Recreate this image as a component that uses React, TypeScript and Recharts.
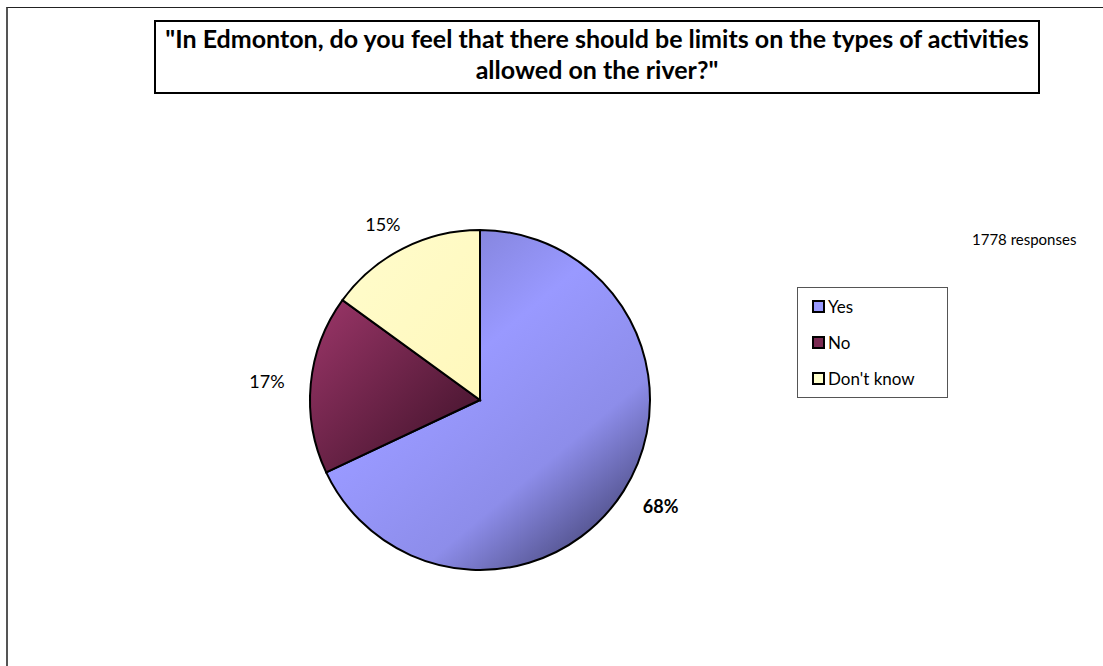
import { PieChart, Pie, Cell, Legend } from "recharts";

const CATEGORIES = ["Yes", "No", "Don't know"];
const SHARES = [68, 17, 15];
const FILLS = ["url(#gYes)", "url(#gNo)", "url(#gDk)"];
const SWATCHES = ["#9999ff", "#7a2a52", "#ffffcc"];
const TITLE_LINES = [
  "\"In Edmonton, do you feel that there should be limits on the types of activities",
  "allowed on the river?\"",
];
const RESPONSES = "1778 responses";

const DATA = CATEGORIES.map((name, i) => ({ name, value: SHARES[i] }));

const FONT = "Lato, 'Open Sans', sans-serif";
const RAD = Math.PI / 180;

// label sits just outside the rim, nudged out by half its own box
function renderLabel(props: any) {
  const { cx, cy, midAngle, outerRadius, percent, index } = props;
  const r = outerRadius + 20;
  const c = Math.cos(-midAngle * RAD);
  const s = Math.sin(-midAngle * RAD);
  const w = 48;
  const h = 16;
  const x = cx + r * c + (c * w) / 2;
  const y = cy + r * s + (s * h) / 2;
  return (
    <text
      x={x}
      y={y}
      textAnchor="middle"
      dominantBaseline="central"
      fontFamily={FONT}
      fontSize={18}
      fontWeight={index === 0 ? 700 : 400}
      fill="#000"
    >
      {`${Math.round(percent * 100)}%`}
    </text>
  );
}

function LegendBox() {
  return (
    <div
      style={{
        width: 151,
        height: 111,
        border: "1px solid #555",
        boxSizing: "border-box",
        background: "#fff",
        fontFamily: FONT,
        fontSize: 17,
      }}
    >
      {CATEGORIES.map((c, i) => (
        <div key={c} style={{ display: "flex", alignItems: "center", height: 36, paddingLeft: 14 }}>
          <span
            style={{
              width: 9,
              height: 9,
              border: "2px solid #000",
              background: SWATCHES[i],
              marginRight: 3,
              display: "inline-block",
            }}
          />
          <span>{c}</span>
        </div>
      ))}
    </div>
  );
}

export default function App() {
  return (
    <div style={{ position: "absolute", left: 0, top: 0, width: 1103, height: 666, background: "#fff", overflow: "hidden" }}>
      <div
        style={{
          position: "absolute",
          left: 6,
          top: 7,
          width: 1110,
          height: 700,
          borderTop: "1px solid #222",
          borderLeft: "2px solid #555",
        }}
      />
      <div
        style={{
          position: "absolute",
          left: 154,
          top: 20,
          width: 886,
          height: 74,
          border: "2px solid #000",
          boxSizing: "border-box",
          fontFamily: FONT,
          fontWeight: 700,
          fontSize: 25,
          lineHeight: "31px",
          textAlign: "center",
          paddingTop: 1,
          whiteSpace: "nowrap",
        }}
      >
        {TITLE_LINES.map((l) => (
          <div key={l}>{l}</div>
        ))}
      </div>
      <div
        style={{
          position: "absolute",
          left: 972,
          top: 230,
          fontFamily: FONT,
          fontSize: 15,
        }}
      >
        {RESPONSES}
      </div>
      <div style={{ position: "absolute", left: 0, top: 0 }}>
        <PieChart width={1103} height={666} margin={{ top: 0, right: 0, bottom: 0, left: 0 }}>
          <defs>
            <linearGradient id="gYes" x1="0.1" y1="0" x2="0.9" y2="1">
              <stop offset="0%" stopColor="#7676c4" />
              <stop offset="40%" stopColor="#9999ff" />
              <stop offset="70%" stopColor="#8d8dea" />
              <stop offset="100%" stopColor="#393964" />
            </linearGradient>
            <linearGradient id="gNo" x1="0" y1="0" x2="1" y2="1">
              <stop offset="0%" stopColor="#9c3669" />
              <stop offset="100%" stopColor="#3a1026" />
            </linearGradient>
            <linearGradient id="gDk" x1="0" y1="0" x2="1" y2="1">
              <stop offset="0%" stopColor="#fffccc" />
              <stop offset="100%" stopColor="#fff8bc" />
            </linearGradient>
          </defs>
          <Pie
            data={DATA}
            dataKey="value"
            nameKey="name"
            cx={480}
            cy={400}
            outerRadius={170}
            startAngle={90}
            endAngle={-270}
            stroke="#000"
            strokeWidth={2}
            label={renderLabel}
            labelLine={false}
            isAnimationActive={false}
          >
            {DATA.map((d, i) => (
              <Cell key={d.name} fill={FILLS[i]} />
            ))}
          </Pie>
          <Legend
            layout="vertical"
            content={() => <LegendBox />}
            wrapperStyle={{ position: "absolute", left: 797, top: 287, width: 151 }}
          />
        </PieChart>
      </div>
    </div>
  );
}
